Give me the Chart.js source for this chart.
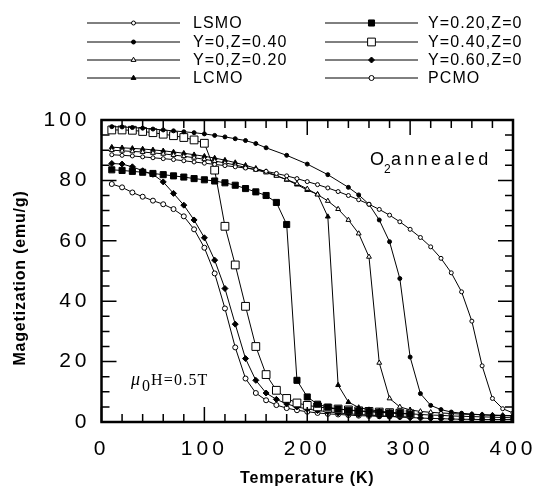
<!DOCTYPE html>
<html>
<head>
<meta charset="utf-8">
<script src="https://cdn.jsdelivr.net/npm/chart.js@4.4.0/dist/chart.umd.min.js"></script>
<style>
  html, body { margin: 0; padding: 0; background: #fff; }
  #wrap { width: 548px; height: 497px; }
</style>
</head>
<body>
<div id="wrap"><canvas id="magChart"></canvas></div>
<script>
// temperature grid (K)
const temps = [10, 20, 30, 40, 50, 60, 70, 80, 90, 100,
  110, 120, 130, 140, 150, 160, 170, 180, 190, 200,
  210, 220, 230, 240, 250, 260, 270, 280, 290, 300,
  310, 320, 330, 340, 350, 360, 370, 380, 390, 400];

// magnetization (emu/g), null = no point at that temperature
const lsmo = [88.5, 88.3, 88.1, 87.8, 87.5, 87.2, 86.9, 86.5, 86.1, 85.7,
  85.3, 84.9, 84.5, 84.1, 83.6, 83.0, 82.3, 81.5, 80.6, 79.6,
  78.6, 77.5, 76.3, 75.0, 73.6, 72.1, 70.4, 68.5, 66.3, 63.8,
  61.1, 58.0, 54.2, 49.4, 43.1, 33.4, 18.6, 7.8, 4.4, 3.0];
const y0z40 = [97.8, 97.7, 97.5, 97.3, 97.0, 96.7, 96.4, 96.1, 95.8, 95.4,
  94.9, 94.4, 93.8, 93.2, 92.2, 90.8, null, 88.3, null, 85.4,
  null, 81.9, null, 77.7, 75.2, 72.1, 66.9, 59.7, 47.5, 21.5,
  9.4, 5.5, 4.1, 3.3, 2.9, 2.6, 2.4, 2.2, 2.1, 2.0];
const y0z20 = [90.0, 89.8, 89.6, 89.4, 89.1, 88.8, 88.4, 88.0, 87.5, 87.0,
  86.4, 85.8, 85.1, 84.3, 83.5, 82.6, 81.5, 80.3, 78.9, 77.2,
  75.3, 73.2, 70.5, 66.9, 62.4, 54.7, 19.6, 7.8, 5.0, 4.0,
  3.5, 3.2, 3.0, 2.8, 2.6, 2.5, 2.4, 2.3, 2.2, 2.1];
const lcmo = [91.0, 90.8, 90.6, 90.4, 90.1, 89.8, 89.4, 89.0, 88.5, 88.0,
  87.4, 86.7, 85.9, 85.0, 84.0, 82.9, 81.6, 80.2, 78.6, 76.8,
  75.4, 68.0, 12.2, 6.6, 4.8, 4.1, 3.6, 3.2, 2.9, 2.7,
  2.5, 2.3, 2.2, 2.0, 1.9, 1.8, 1.7, 1.6, 1.5, 1.4];
const y20z0 = [83.5, 83.3, 83.0, 82.7, 82.3, 81.9, 81.5, 81.1, 80.6, 80.2,
  79.8, 79.2, 78.4, 77.3, 76.2, 75.0, 72.7, 65.4, 13.8, 8.3,
  5.9, 4.9, 4.3, 3.9, 3.6, 3.4, 3.2, 3.0, 2.8, 2.7,
  null, null, null, null, null, null, null, null, null, null];
const y40z0 = [96.7, 96.7, 96.6, 96.2, 95.8, 95.3, 94.8, 94.2, 93.4, 92.3,
  83.4, 64.8, 52.0, 38.3, 25.0, 15.7, 10.5, 7.8, 6.3, 5.5,
  5.0, 4.6, 4.3, 4.0, 3.7, 3.5, 3.3, 3.1, 2.9, 2.7,
  null, null, null, null, null, null, null, null, null, null];
const y60z0 = [85.6, 85.4, 84.5, 83.2, 82.0, 79.5, 75.7, 71.8, 66.9, 61.0,
  53.6, 44.2, 32.4, 21.0, 13.8, 9.6, 7.5, 6.0, 5.0, 4.3,
  3.8, 3.4, 3.0, 2.7, 2.5, 2.3, 2.1, 1.9, 1.7, 1.5,
  1.3, 1.2, 1.1, 1.0, 0.9, 0.9, 0.8, 0.8, 0.8, 0.8];
const pcmo = [78.8, 77.7, 76.0, 74.6, 73.3, 72.1, 70.5, 68.1, 63.8, 57.7,
  49.2, 37.6, 24.7, 14.4, 9.6, 7.2, 5.6, 4.6, 3.9, 3.4,
  3.0, 2.7, 2.5, 2.3, 2.1, 2.0, 1.9, 1.8, 1.7, 1.6,
  null, null, null, null, null, null, null, null, null, null];

const xTicks = [0, 100, 200, 300, 400];
const yTicks = [0, 20, 40, 60, 80, 100];

const SANS = '"Liberation Sans", Arial, Helvetica, sans-serif';
const SERIF = '"Liberation Serif", "Times New Roman", serif';

function series(label, data, style, radius, fill) {
  return {
    label: label,
    data: data,
    borderColor: '#000',
    borderWidth: 1,
    pointStyle: style,
    pointRadius: radius,
    pointBackgroundColor: fill,
    pointBorderColor: '#000',
    pointBorderWidth: 1,
    spanGaps: true,
    tension: 0,
    fill: false
  };
}

// legend, frame with inward ticks, axis titles and notes
const paperLook = {
  id: 'paperLook',
  beforeDraw(chart) {
    chart.ctx.letterSpacing = '4px';
  },
  afterDraw(chart) {
    const ctx = chart.ctx;
    const a = chart.chartArea;
    const xs = chart.scales.x, ys = chart.scales.y;
    ctx.save();
    ctx.letterSpacing = '0px';
    ctx.strokeStyle = '#000';
    ctx.fillStyle = '#000';

    // frame
    ctx.lineWidth = 2.5;
    ctx.strokeRect(a.left, a.top, a.right - a.left, a.bottom - a.top);

    // inward ticks
    ctx.lineWidth = 1.5;
    ctx.beginPath();
    for (let t = 0; t <= 400; t += 20) {
      const px = xs.getPixelForValue(t);
      const len = t % 100 === 0 ? 15 : 8;
      ctx.moveTo(px, a.bottom); ctx.lineTo(px, a.bottom - len);
      ctx.moveTo(px, a.top); ctx.lineTo(px, a.top + len);
    }
    for (let m = 0; m <= 100; m += 5) {
      const py = ys.getPixelForValue(m);
      const len = m % 20 === 0 ? 15 : 8;
      ctx.moveTo(a.left, py); ctx.lineTo(a.left + len, py);
      ctx.moveTo(a.right, py); ctx.lineTo(a.right - len, py);
    }
    ctx.stroke();

    // axis titles
    ctx.font = 'bold 16px ' + SANS;
    ctx.letterSpacing = '0.8px';
    ctx.textAlign = 'center';
    ctx.textBaseline = 'middle';
    ctx.fillText('Temperature (K)', (a.left + a.right) / 2, 479);
    ctx.save();
    ctx.translate(21, 278);
    ctx.rotate(-Math.PI / 2);
    ctx.fillText('Magetization (emu/g)', 0, 0);
    ctx.restore();

    // notes inside the plot
    ctx.textAlign = 'left';
    ctx.textBaseline = 'alphabetic';
    ctx.font = '18px ' + SANS;
    ctx.letterSpacing = '2px';
    ctx.fillText('O', 370, 165);
    ctx.font = '12px ' + SANS;
    ctx.letterSpacing = '0px';
    ctx.fillText('2', 384, 173);
    ctx.font = '18px ' + SANS;
    ctx.letterSpacing = '3.3px';
    ctx.fillText('annealed', 391, 165);

    ctx.letterSpacing = '0px';
    ctx.font = 'italic 18px ' + SERIF;
    ctx.fillText('\u03bc', 131, 385);
    ctx.font = '16px ' + SERIF;
    ctx.fillText('0', 142, 391);
    ctx.letterSpacing = '1.2px';
    ctx.fillText('H=0.5T', 151, 385);

    // legend
    const rows = [23, 42, 60, 78];
    const cols = [{ x1: 87, x2: 180, text: 193 }, { x1: 325, x2: 418, text: 428 }];
    ctx.font = '16px ' + SANS;
    ctx.letterSpacing = '1.1px';
    ctx.textBaseline = 'middle';
    chart.data.datasets.forEach((ds, i) => {
      const col = cols[Math.floor(i / 4)];
      const y = rows[i % 4];
      ctx.lineWidth = 1;
      ctx.beginPath();
      ctx.moveTo(col.x1, y); ctx.lineTo(col.x2, y);
      ctx.stroke();
      ctx.fillStyle = ds.pointBackgroundColor;
      ctx.strokeStyle = '#000';
      Chart.helpers.drawPoint(ctx, {
        pointStyle: ds.pointStyle, radius: ds.pointRadius, rotation: 0, borderWidth: 1
      }, (col.x1 + col.x2) / 2, y);
      ctx.fillStyle = '#000';
      ctx.fillText(ds.label, col.text, y + 1);
    });
    ctx.restore();
  }
};

const ctxMag = document.getElementById('magChart').getContext('2d');

const magChart = new Chart(ctxMag, {
  type: 'line',
  data: {
    labels: temps,
    datasets: [
      series('LSMO', lsmo, 'circle', 2, '#fff'),
      series('Y=0,Z=0.40', y0z40, 'circle', 2, '#000'),
      series('Y=0,Z=0.20', y0z20, 'triangle', 2.8, '#fff'),
      series('LCMO', lcmo, 'triangle', 2.8, '#000'),
      series('Y=0.20,Z=0', y20z0, 'rect', 4.3, '#000'),
      series('Y=0.40,Z=0', y40z0, 'rect', 5.5, '#fff'),
      series('Y=0.60,Z=0', y60z0, 'rectRot', 3, '#000'),
      series('PCMO', pcmo, 'circle', 2.5, '#fff')
    ]
  },
  options: {
    responsive: true,
    maintainAspectRatio: false,
    animation: false,
    layout: {
      padding: { top: 120, right: 35, left: 0, bottom: 0 }
    },
    scales: {
      x: {
        type: 'linear',
        min: 0,
        max: 400,
        afterFit: s => { s.height = 75; },
        afterBuildTicks: s => { s.ticks = xTicks.map(v => ({ value: v })); },
        grid: { display: false, drawTicks: false },
        border: { display: false },
        ticks: {
          color: '#000',
          padding: 15,
          maxRotation: 0,
          font: { family: SANS, size: 21 }
        }
      },
      y: {
        min: 0,
        max: 100,
        afterFit: s => { s.width = 101.5; },
        afterBuildTicks: s => { s.ticks = yTicks.map(v => ({ value: v })); },
        grid: { display: false, drawTicks: false },
        border: { display: false },
        ticks: {
          color: '#000',
          padding: 11,
          font: { family: SANS, size: 21 }
        }
      }
    },
    plugins: {
      legend: { display: false },
      tooltip: { enabled: false }
    }
  },
  plugins: [paperLook]
});
</script>
</body>
</html>
